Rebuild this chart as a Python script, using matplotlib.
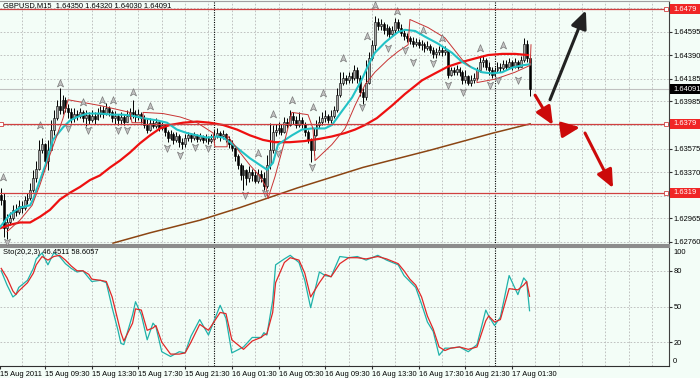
import matplotlib
matplotlib.use("Agg")
import matplotlib.pyplot as plt
import matplotlib.transforms as mtransforms
from matplotlib.patches import Rectangle
from matplotlib.path import Path
import numpy as np

plt.rcParams['font.family'] = ['Liberation Sans', 'DejaVu Sans']

# -------------------------
# data (bar index: 0 = 15 Aug 05:30, M15 bars)
# -------------------------
first_open = 1.6317
closes = [
    1.6313, 1.6288, 1.6293, 1.6297, 1.6304, 1.6302, 1.6307, 1.6306, 1.6313, 1.6314,
    1.6321, 1.6332, 1.6340, 1.6356, 1.6361, 1.6347, 1.6356, 1.6374, 1.6384, 1.6395,
    1.6391, 1.6400, 1.6393, 1.6389, 1.6384, 1.6388, 1.6386, 1.6389, 1.6384, 1.6387,
    1.6382, 1.6386, 1.6383, 1.6388, 1.6391, 1.6388, 1.6393, 1.6389, 1.6384, 1.6386,
    1.6382, 1.6385, 1.6381, 1.6386, 1.6389, 1.6388, 1.6385, 1.6388, 1.6384, 1.6378,
    1.6374, 1.6380, 1.6377, 1.6381, 1.6375, 1.6378, 1.6372, 1.6367, 1.6370, 1.6365,
    1.6368, 1.6363, 1.6361, 1.6367, 1.6369, 1.6367, 1.6369, 1.6366, 1.6368, 1.6365,
    1.6367, 1.6364, 1.6366, 1.6368, 1.6371, 1.6368, 1.6370, 1.6366, 1.6361, 1.6358,
    1.6351, 1.6343, 1.6334, 1.6339, 1.6332, 1.6337, 1.6334, 1.6329, 1.6335, 1.6332,
    1.6325, 1.6343, 1.6356, 1.6372, 1.6374, 1.6375, 1.6372, 1.6381, 1.6378, 1.6386,
    1.6382, 1.6378, 1.6382, 1.6379, 1.6372, 1.6365, 1.6356, 1.6369, 1.6378, 1.6381,
    1.6384, 1.6386, 1.6382, 1.6386, 1.6391, 1.6404, 1.6415, 1.6419, 1.6417, 1.6421,
    1.6419, 1.6426, 1.6419, 1.6407, 1.6402, 1.6415, 1.6436, 1.6448, 1.6468, 1.6464,
    1.6466, 1.6461, 1.6463, 1.6457, 1.6461, 1.6468, 1.6463, 1.6458, 1.6456, 1.6454,
    1.6451, 1.6449, 1.6450, 1.6448, 1.6449, 1.6445, 1.6447, 1.6443, 1.6440, 1.6442,
    1.6443, 1.6442, 1.6443, 1.6422, 1.6426, 1.6424, 1.6427, 1.6424, 1.6417, 1.6421,
    1.6415, 1.6417, 1.6419, 1.6426, 1.6433, 1.6435, 1.6429, 1.6426, 1.6422, 1.6426,
    1.6429, 1.6428, 1.6431, 1.6429, 1.6433, 1.6429, 1.6433, 1.6429, 1.6435, 1.6449,
    1.6436, 1.64091,
]
highs = [
    1.6323, 1.6319, 1.6300, 1.6302, 1.6308, 1.6309, 1.6313, 1.6312, 1.6316, 1.6319,
    1.6327, 1.6339, 1.6347, 1.6365, 1.6367, 1.6362, 1.6365, 1.6382, 1.6391, 1.6400,
    1.6410, 1.6404, 1.6402, 1.6396, 1.6393, 1.6393, 1.6391, 1.6393, 1.6391, 1.6391,
    1.6389, 1.6391, 1.6389, 1.6393, 1.6395, 1.6395, 1.6397, 1.6395, 1.6391, 1.6390,
    1.6388, 1.6389, 1.6388, 1.6391, 1.6393, 1.6400, 1.6391, 1.6392, 1.6389, 1.6387,
    1.6384, 1.6384, 1.6382, 1.6384, 1.6381, 1.6381, 1.6379, 1.6374, 1.6374, 1.6372,
    1.6372, 1.6370, 1.6367, 1.6370, 1.6372, 1.6371, 1.6372, 1.6370, 1.6371, 1.6369,
    1.6370, 1.6368, 1.6370, 1.6374, 1.6375, 1.6373, 1.6374, 1.6371, 1.6368, 1.6365,
    1.6359, 1.6353, 1.6345, 1.6343, 1.6340, 1.6342, 1.6340, 1.6339, 1.6340, 1.6339,
    1.6337, 1.6352, 1.6380, 1.6378, 1.6379, 1.6381, 1.6379, 1.6385, 1.6384, 1.6391,
    1.6389, 1.6386, 1.6389, 1.6385, 1.6381, 1.6374, 1.6367, 1.6375, 1.6382, 1.6386,
    1.6389, 1.6391, 1.6388, 1.6391, 1.6395, 1.6410, 1.6424, 1.6424, 1.6422, 1.6424,
    1.6424, 1.6430, 1.6429, 1.6422, 1.6410, 1.6435, 1.6442, 1.6452, 1.6473, 1.6471,
    1.6470, 1.6468, 1.6466, 1.6464, 1.6464, 1.6471, 1.6470, 1.6466, 1.6461, 1.6458,
    1.6456, 1.6455, 1.6454, 1.6453, 1.6452, 1.6450, 1.6451, 1.6449, 1.6446, 1.6445,
    1.6447, 1.6447, 1.6447, 1.6443, 1.6429, 1.6429, 1.6430, 1.6429, 1.6426, 1.6426,
    1.6422, 1.6422, 1.6423, 1.6429, 1.6438, 1.6439, 1.6436, 1.6433, 1.6429, 1.6429,
    1.6433, 1.6432, 1.6435, 1.6435, 1.6436, 1.6435, 1.6436, 1.6435, 1.6438, 1.6454,
    1.6452, 1.6437,
]
lows = [
    1.6308, 1.6280, 1.6279, 1.6291, 1.6295, 1.6299, 1.6300, 1.6301, 1.6304, 1.6309,
    1.6313, 1.6320, 1.6328, 1.6339, 1.6354, 1.6343, 1.6339, 1.6356, 1.6369, 1.6382,
    1.6388, 1.6388, 1.6389, 1.6384, 1.6380, 1.6381, 1.6382, 1.6384, 1.6381, 1.6377,
    1.6379, 1.6381, 1.6379, 1.6382, 1.6385, 1.6384, 1.6387, 1.6386, 1.6381, 1.6379,
    1.6378, 1.6379, 1.6378, 1.6381, 1.6383, 1.6384, 1.6381, 1.6382, 1.6380, 1.6375,
    1.6371, 1.6373, 1.6375, 1.6375, 1.6373, 1.6374, 1.6368, 1.6363, 1.6365, 1.6361,
    1.6363, 1.6359, 1.6357, 1.6359, 1.6364, 1.6363, 1.6365, 1.6363, 1.6364, 1.6362,
    1.6363, 1.6361, 1.6362, 1.6364, 1.6367, 1.6364, 1.6366, 1.6363, 1.6358, 1.6355,
    1.6347, 1.6340, 1.6330, 1.6321, 1.6326, 1.6328, 1.6329, 1.6327, 1.6327, 1.6328,
    1.6321, 1.6323, 1.6340, 1.6354, 1.6368, 1.6370, 1.6369, 1.6371, 1.6375, 1.6377,
    1.6379, 1.6375, 1.6376, 1.6375, 1.6368, 1.6362, 1.6346, 1.6352, 1.6368, 1.6375,
    1.6378, 1.6381, 1.6380, 1.6380, 1.6384, 1.6389, 1.6402, 1.6413, 1.6414, 1.6415,
    1.6415, 1.6417, 1.6415, 1.6403, 1.6396, 1.6400, 1.6414, 1.6435, 1.6443, 1.6461,
    1.6461, 1.6457, 1.6456, 1.6454, 1.6456, 1.6458, 1.6460, 1.6456, 1.6452, 1.6450,
    1.6449, 1.6446, 1.6447, 1.6445, 1.6443, 1.6442, 1.6443, 1.6441, 1.6436, 1.6436,
    1.6439, 1.6438, 1.6439, 1.6419, 1.6421, 1.6422, 1.6422, 1.6421, 1.6414, 1.6415,
    1.6413, 1.6412, 1.6415, 1.6417, 1.6424, 1.6429, 1.6426, 1.6422, 1.6419, 1.6421,
    1.6424, 1.6424, 1.6426, 1.6426, 1.6428, 1.6426, 1.6428, 1.6427, 1.6429, 1.6433,
    1.6433, 1.6403,
]

# moving averages: (bar, price)
cyan_ma_bar = [0.6, 4.0, 7.4, 10.9, 11.9, 14.3, 16.7, 18.7, 22.2, 24.6, 27.0, 30.4, 34.8,
               39.3, 42.7, 46.1, 49.6, 54.4, 57.8, 61.2, 64.6, 68.1, 71.5, 74.9, 77.0,
               79.4, 82.8, 86.2, 89.7, 92.1, 94.1, 95.8, 100.6, 104.0, 107.5, 111.9,
               114.3, 117.7, 121.2, 124.6, 126.7, 129.0, 132.5, 134.9, 136.9, 139.3,
               142.8, 146.2, 150.6, 155.4, 158.9, 162.3, 165.7, 169.1, 172.6, 176.0,
               179.4, 182.2]
cyan_ma_val = [1.6289, 1.6300, 1.6306, 1.6308, 1.6313, 1.6330, 1.6347, 1.6365, 1.6376,
               1.6382, 1.6385, 1.6388, 1.6388, 1.6387, 1.6387, 1.6386, 1.6384, 1.6382,
               1.6380, 1.6374, 1.6371, 1.6369, 1.6367, 1.6368, 1.6367, 1.6363, 1.6356,
               1.6349, 1.6343, 1.6339, 1.6345, 1.6361, 1.6369, 1.6374, 1.6375, 1.6375,
               1.6378, 1.6390, 1.6402, 1.6418, 1.6430, 1.6441, 1.6450, 1.6455, 1.6459,
               1.6461, 1.6460, 1.6455, 1.6449, 1.6441, 1.6433, 1.6428, 1.6424, 1.6423,
               1.6424, 1.6428, 1.6430, 1.6431]
red_ma_bar = [0.6, 4.0, 7.4, 10.9, 14.3, 17.7, 21.1, 24.6, 28.0, 31.4, 34.8, 38.3, 41.7,
              45.1, 48.5, 52.0, 55.4, 58.8, 63.3, 68.1, 72.5, 77.0, 81.8, 86.2, 90.7,
              94.8, 99.9, 105.0, 110.2, 114.3, 118.8, 122.2, 125.6, 129.7, 134.9,
              139.3, 145.2, 149.6, 154.1, 158.9, 163.3, 167.8, 172.6, 177.0, 181.5]
red_ma_val = [1.6288, 1.6291, 1.6293, 1.6293, 1.6298, 1.6304, 1.6313, 1.6319, 1.6324,
              1.6330, 1.6334, 1.6341, 1.6347, 1.6354, 1.6362, 1.6369, 1.6375, 1.6378,
              1.6380, 1.6381, 1.6380, 1.6378, 1.6374, 1.6369, 1.6365, 1.6363, 1.6363,
              1.6364, 1.6366, 1.6368, 1.6371, 1.6374, 1.6378, 1.6384, 1.6395, 1.6405,
              1.6417, 1.6423, 1.6429, 1.6433, 1.6436, 1.6439, 1.6440, 1.6440, 1.6439]
brown_ma_bar = [39.3, 52.0, 69.1, 82.8, 102.3, 124.9, 147.9, 169.5, 182.2]
brown_ma_val = [1.6275, 1.6284, 1.6295, 1.6306, 1.6323, 1.6341, 1.6356, 1.6371, 1.6379]

# thin red channel outlines
chan1_bar = [3.0, 7.4, 11.6, 14.3, 17.7, 20.1, 22.2, 23.9, 34.8, 45.1, 45.8, 49.6, 49.6,
             56.4, 62.3, 68.1, 73.6, 74.2, 78.4, 78.4, 82.8, 86.2, 89.7, 91.7, 92.4]
chan1_val = [1.6285, 1.6295, 1.6308, 1.6326, 1.6352, 1.6369, 1.6384, 1.6400, 1.6395,
             1.6389, 1.6380, 1.6380, 1.6389, 1.6388, 1.6385, 1.6380, 1.6371, 1.6359,
             1.6359, 1.6369, 1.6354, 1.6343, 1.6333, 1.6324, 1.6314]
chan2_bar = [92.4, 94.8, 98.2, 100.6, 106.1, 107.8, 108.5, 114.3, 118.8, 122.2, 125.6,
             129.0, 133.5, 136.9, 140.4, 141.0, 147.2, 153.0, 158.9, 161.6]
chan2_val = [1.6314, 1.6333, 1.6365, 1.6389, 1.6387, 1.6375, 1.6347, 1.6361, 1.6375,
             1.6395, 1.6413, 1.6424, 1.6435, 1.6442, 1.6448, 1.6470, 1.6463, 1.6454,
             1.6435, 1.6429]
chan3_bar = [164.0, 164.0, 170.2, 177.0, 182.2, 182.5]
chan3_val = [1.6424, 1.6415, 1.6418, 1.6424, 1.6430, 1.6448]

# fractals
frac_up_bar = [1.6, 14.3, 21.1, 29.0, 35.5, 39.3, 46.1, 52.0, 89.0, 94.1, 100.6, 107.8,
               111.2, 118.1, 126.3, 129.0, 136.6, 145.5, 152.0, 165.0, 172.9]
frac_up_val = [1.6333, 1.6378, 1.6415, 1.6398, 1.6400, 1.6400, 1.6407, 1.6395, 1.6354,
               1.6388, 1.6400, 1.6394, 1.6406, 1.6436, 1.6456, 1.6483, 1.6477, 1.6461,
               1.6454, 1.6445, 1.6448]
frac_dn_bar = [3.0, 23.9, 30.7, 41.0, 44.1, 57.8, 62.3, 67.4, 71.8, 84.5, 91.4, 95.8,
               107.5, 124.6, 133.5, 139.3, 142.0, 148.9, 154.1, 159.2, 168.4, 171.2, 178.0]
frac_dn_val = [1.6276, 1.6375, 1.6374, 1.6374, 1.6374, 1.6358, 1.6352, 1.6359, 1.6358,
               1.6317, 1.6319, 1.6354, 1.6341, 1.6394, 1.6445, 1.6443, 1.6433, 1.6432,
               1.6413, 1.6407, 1.6413, 1.6417, 1.6417]

# horizontal levels and drawn arrows
levels = [1.6479, 1.6379, 1.6319]
last_price = 1.64091
arrow_black = [(189.0, 1.6400), (201.3, 1.6478)]
arrows_red = [[(183.9, 1.6404), (190.0, 1.6378)],
              [(193.5, 1.6374), (199.3, 1.6376)],
              [(201.0, 1.6371), (210.6, 1.6323)]]

# stochastic (20,2,3)
sto_bar = [1, 3, 5, 6, 7, 10, 12, 13, 15, 17, 19, 21, 23, 25, 27, 29, 31, 32, 35, 37,
           39, 41, 42, 43, 46, 47, 49, 51, 53, 54, 56, 59, 62, 64, 66, 69, 72, 76, 78,
           80, 84, 87, 90, 91, 92, 94, 95, 98, 100, 103, 105, 107, 110, 112, 114, 117,
           120, 123, 126, 130, 133, 137, 139, 141, 143, 145, 147, 149, 151, 153, 155,
           158, 161, 164, 167, 168, 170, 172, 175, 178, 180, 181, 182]
sto_main = [80, 68, 58, 60, 66, 72, 82, 90, 95, 85, 95, 92, 86, 82, 79, 80, 74, 71, 72,
            70, 49, 30, 19, 18, 43, 54, 43, 22, 36, 33, 12, 8, 12, 11, 25, 39, 26, 51,
            40, 11, 16, 24, 24, 28, 26, 55, 85, 90, 93, 87, 72, 49, 79, 76, 75, 92, 91,
            92, 89, 93, 89, 85, 76, 71, 66, 52, 37, 29, 9, 15, 15, 16, 12, 18, 47, 42,
            34, 41, 76, 60, 74, 71, 46.45]
sto_signal = [82, 74, 63, 60, 63, 70, 78, 85, 92, 89, 92, 93, 89, 84, 80, 80, 77, 73,
              72, 71, 58, 38, 28, 21, 36, 48, 47, 30, 32, 34, 20, 10, 10, 11, 20, 35, 30,
              45, 44, 22, 14, 21, 24, 26, 27, 45, 70, 87, 91, 89, 78, 58, 70, 77, 75, 86,
              91, 91, 90, 92, 90, 86, 80, 73, 68, 58, 42, 31, 16, 13, 15, 16, 14, 16, 38,
              42, 37, 39, 65, 64, 68, 71, 58.61]

time_ticks = [0.6, 16, 32, 48, 64, 80, 96, 112, 128, 144, 160, 176]
time_labels = ["15 Aug 2011", "15 Aug 09:30", "15 Aug 13:30", "15 Aug 17:30",
               "15 Aug 21:30", "16 Aug 01:30", "16 Aug 05:30", "16 Aug 09:30",
               "16 Aug 13:30", "16 Aug 17:30", "16 Aug 21:30", "17 Aug 01:30"]
price_ticks = [1.64595, 1.64390, 1.64185, 1.63985, 1.63575, 1.63370, 1.62965, 1.62760]
grid_prices = [1.64800, 1.64595, 1.64390, 1.64185, 1.63985, 1.63780, 1.63575,
               1.63370, 1.63165, 1.62965, 1.62760]
separators = [74, 170]

# -------------------------
# figure
# -------------------------
BG = '#f3fdf7'
FS = 5.4
W, H = 700, 378
fig = plt.figure(figsize=(7, 3.78), dpi=100)
fig.patch.set_facecolor(BG)

ax = fig.add_axes([0, 1 - 245 / H, 669 / W, 244 / H])
axs = fig.add_axes([0, 1 - 366 / H, 669 / W, 119 / H])
XLIM = (0.582, 229.77)
for a in (ax, axs):
    a.set_facecolor(BG)
    a.set_xlim(*XLIM)
    a.spines['left'].set_visible(False)
    a.spines['right'].set_color('#404040')
ax.set_ylim(1.6487 - 0.0000872 * 245, 1.6487 - 0.0000872 * 1)
axs.set_ylim(0, 100)
ax.spines['top'].set_color('#a0a0a0')
ax.spines['bottom'].set_color('#8c8c8c')
ax.spines['bottom'].set_linewidth(1.5)
axs.spines['top'].set_color('#8c8c8c')
axs.spines['top'].set_linewidth(1.5)
axs.spines['bottom'].set_color('#303030')

grid_kw = dict(color='#b8b8b8', lw=0.6, ls=(0, (2, 2)), zorder=0.5)
vgrid = np.arange(8, 229, 8)
for a in (ax, axs):
    for g in vgrid:
        a.axvline(g, **grid_kw)
    for s in separators:
        a.axvline(s, color='black', lw=0.8, ls=(0, (1, 1.2)), zorder=0.6)
for g in grid_prices:
    ax.axhline(g, **grid_kw)
for g in [20, 50, 80]:
    axs.axhline(g, **grid_kw)

# -------------------------
# candles
# -------------------------
bars = np.arange(1, len(closes) + 1)
c = np.array(closes)
o = np.r_[first_open, c[:-1]]
hi = np.maximum(np.array(highs), np.maximum(o, c))
lo = np.minimum(np.array(lows), np.minimum(o, c))
ax.vlines(bars, lo, hi, color='black', lw=0.7, zorder=2)
body_lo = np.minimum(o, c)
body_h = np.maximum(np.abs(c - o), 0.00002)
bull = c >= o
ax.bar(bars[bull], body_h[bull], bottom=body_lo[bull], width=0.65,
       color='#a8a8a8', edgecolor='black', linewidth=0.4, zorder=2.1)
ax.bar(bars[~bull], body_h[~bull], bottom=body_lo[~bull], width=0.65,
       color='black', edgecolor='black', linewidth=0.4, zorder=2.1)

# moving averages and channel
ax.plot(brown_ma_bar, brown_ma_val, color='#8b4513', lw=1.1, zorder=3)
ax.plot(red_ma_bar, red_ma_val, color='#ee1010', lw=1.6, zorder=3)
ax.plot(cyan_ma_bar, cyan_ma_val, color='#22c2c6', lw=1.5, zorder=3.1)
for xb, yv in [(chan1_bar, chan1_val), (chan2_bar, chan2_val), (chan3_bar, chan3_val)]:
    ax.plot(xb, yv, color='#c83434', lw=0.7, zorder=3.2)

# fractals
up_arrow = Path([(0, 1), (0.8, -0.9), (0, -0.4), (-0.8, -0.9), (0, 1)],
                [Path.MOVETO, Path.LINETO, Path.LINETO, Path.LINETO, Path.CLOSEPOLY])
dn_arrow = Path([(0, -1), (0.8, 0.9), (0, 0.4), (-0.8, 0.9), (0, -1)],
                [Path.MOVETO, Path.LINETO, Path.LINETO, Path.LINETO, Path.CLOSEPOLY])
ax.plot(frac_up_bar, frac_up_val, ls='none', marker=up_arrow, ms=5.5,
        mfc='#c4c4c4', mec='#7a7a7a', mew=0.5, zorder=4)
ax.plot(frac_dn_bar, frac_dn_val, ls='none', marker=dn_arrow, ms=5.5,
        mfc='#c4c4c4', mec='#7a7a7a', mew=0.5, zorder=4)

# levels
trans = mtransforms.blended_transform_factory(ax.transAxes, ax.transData)
ax.axhline(last_price, color='#c0c0c0', lw=0.8, zorder=1)
box_h = 0.0000872 * 10
for lv in levels:
    ax.axhline(lv, color='#d04040', lw=0.9, zorder=5)
    ax.plot([228.9], [lv], marker='s', ms=2.4, mfc='white', mec='#d04040',
            mew=0.6, clip_on=False, zorder=5)
    ax.add_patch(Rectangle((670 / 669, lv - box_h / 2), 30 / 669, box_h, transform=trans,
                           fc='#f02626', ec='none', clip_on=False, zorder=6))
    ax.text(673.5 / 669, lv, f"{lv:.4f}", transform=trans, color='white', fontsize=FS,
            va='center', ha='left', zorder=7, clip_on=False)
ax.plot([0.9], [levels[1]], marker='s', ms=2.4, mfc='white', mec='#d04040',
        mew=0.6, clip_on=False, zorder=5)
ax.add_patch(Rectangle((670 / 669, last_price - box_h / 2), 30 / 669, box_h,
                       transform=trans, fc='black', ec='none', clip_on=False, zorder=6))
ax.text(673.5 / 669, last_price, f"{last_price:.5f}", transform=trans, color='white',
        fontsize=FS, va='center', ha='left', zorder=7, clip_on=False)

# drawn arrows
def draw_arrow(p0, p1, color):
    ax.annotate('', xy=p1, xytext=p0,
                arrowprops=dict(arrowstyle='-|>,head_length=0.9,head_width=0.4',
                                color=color, lw=2.2, mutation_scale=12,
                                shrinkA=0, shrinkB=0), zorder=8)

draw_arrow(arrow_black[0], arrow_black[1], '#222222')
for a_pts in arrows_red:
    draw_arrow(a_pts[0], a_pts[1], '#cc0a0a')

# axis labels
ax.yaxis.tick_right()
ax.set_yticks(price_ticks)
ax.set_yticklabels([f"{p:.5f}" for p in price_ticks])
ax.tick_params(axis='y', labelsize=FS, length=2, pad=1.5, colors='#303030', labelcolor='black')
ax.set_xticks([])

axs.yaxis.tick_right()
axs.set_yticks([20, 50, 80])
axs.set_yticklabels(['20', '50', '80'])
axs.tick_params(axis='y', labelsize=FS, length=2, pad=1.5, colors='#303030', labelcolor='black')
axs.text(673 / 669, 0.985, '100', transform=axs.transAxes, fontsize=FS, va='top', ha='left')
axs.text(673 / 669, 0.01, '0', transform=axs.transAxes, fontsize=FS, va='bottom', ha='left')
axs.set_xticks(time_ticks)
axs.set_xticklabels(time_labels)
axs.tick_params(axis='x', labelsize=FS, length=2.5, pad=1, colors='#303030', labelcolor='black')
for lab in axs.get_xticklabels():
    lab.set_horizontalalignment('left')

# stochastic
axs.plot(sto_bar, sto_main, color='#20b2aa', lw=0.9, zorder=3)
axs.plot(sto_bar, sto_signal, color='#e02828', lw=0.9, zorder=3.1)

ax.text(0.004, 0.997, 'GBPUSD,M15  1.64350 1.64320 1.64030 1.64091', transform=ax.transAxes,
        fontsize=FS, va='top', ha='left', zorder=9)
axs.text(0.004, 0.985, 'Sto(20,2,3) 46.4511 58.6057', transform=axs.transAxes,
         fontsize=FS, va='top', ha='left', zorder=9)

fig.savefig('out.png', dpi=100, facecolor=BG)
